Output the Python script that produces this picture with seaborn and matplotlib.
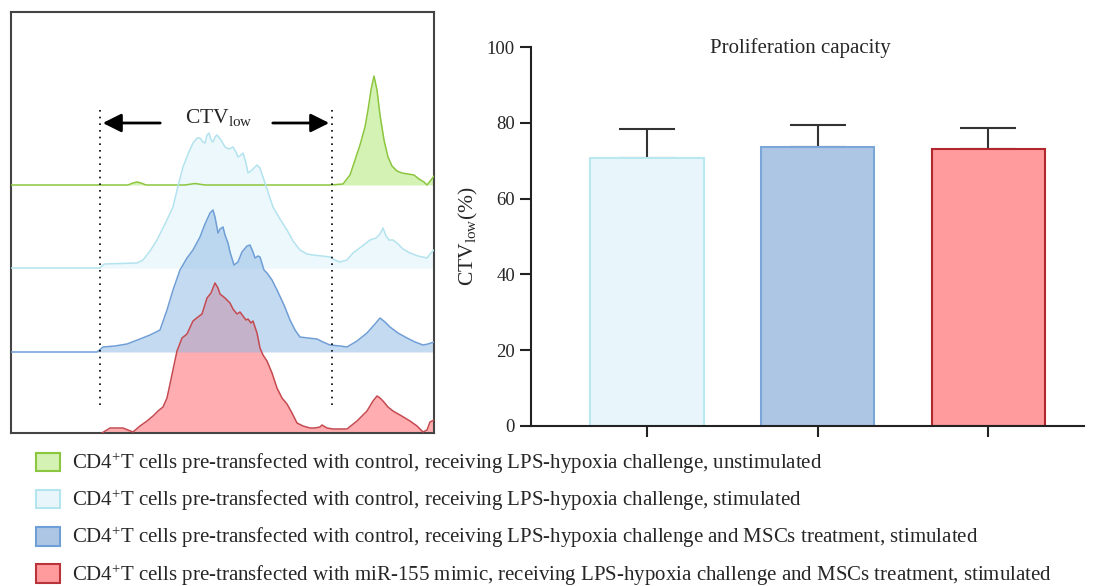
import numpy as np
import pandas as pd
import matplotlib
matplotlib.use("Agg")
import matplotlib.pyplot as plt
import seaborn as sns
from matplotlib.patches import Patch

sns.set_style("white")
plt.rcParams['font.family'] = ['Liberation Serif', 'DejaVu Serif']
plt.rcParams['mathtext.fontset'] = 'custom'
plt.rcParams['mathtext.rm'] = 'Liberation Serif'
plt.rcParams['mathtext.it'] = 'Liberation Serif:italic'

# histogram traces (CTV channel, cell count above each trace's baseline)
green_x = [11, 128, 133, 137, 141, 146, 185, 195, 205, 330, 343, 350, 355, 360, 365, 368, 371, 374, 377, 380,
           384, 388, 392, 397, 402, 408, 414, 419, 424, 427, 431, 434]
green_h = [0, 0, 2, 3, 2, 0, 0, 1.5, 0, 0, 1, 10, 25, 40, 58, 75, 95, 109, 95, 70,
           45, 28, 19, 14, 12, 11, 10, 6, 3, 0, 5, 9]

cyan_x = [11, 100, 104, 137, 143, 150, 157, 165, 173, 178, 183, 188, 193, 197, 200, 203, 205, 207, 209, 211,
          213, 215, 217, 221, 225, 229, 233, 236, 238, 241, 243, 246, 248, 252, 257, 260, 263, 268, 273, 280,
          287, 293, 300, 307, 313, 322, 330, 335, 340, 347, 353, 361, 370, 376, 380, 383, 386, 389, 393, 397,
          403, 410, 418, 427, 430, 434]
cyan_h = [0, 0, 4, 5, 8, 17, 28, 44, 61, 82, 101, 114, 125, 130, 130, 126, 125, 133, 135, 128,
          126, 131, 133, 128, 121, 119, 121, 116, 111, 113, 115, 105, 95, 98, 103, 100, 91, 76, 61, 49,
          38, 27, 18, 14, 13, 12, 11, 8, 6, 8, 15, 21, 28, 30, 34, 40, 32, 28, 28, 25,
          19, 15, 12, 10, 14, 18]

blue_x = [11, 97, 103, 115, 127, 140, 150, 160, 167, 173, 180, 187, 193, 200, 205, 210, 213, 215, 218, 220,
          223, 225, 228, 230, 234, 238, 242, 247, 250, 253, 255, 258, 260, 264, 267, 272, 277, 284, 290, 295,
          300, 308, 317, 323, 330, 340, 347, 357, 367, 375, 380, 385, 390, 398, 407, 415, 423, 428, 434]
blue_h = [0, 0, 5, 6, 8, 13, 17, 22, 42, 62, 82, 94, 102, 115, 128, 139, 142, 135, 119, 123,
          125, 117, 109, 100, 87, 90, 100, 106, 107, 100, 94, 96, 95, 82, 79, 72, 62, 47, 32, 22,
          15, 14, 13, 10, 7, 6, 5, 11, 19, 28, 34, 30, 25, 19, 14, 10, 7, 8, 10]

red_x = [102, 110, 123, 133, 140, 147, 153, 158, 163, 167, 170, 174, 177, 182, 187, 193, 198, 202, 207, 211,
         215, 218, 220, 225, 230, 233, 237, 240, 243, 246, 248, 251, 253, 257, 260, 263, 267, 272, 277, 282,
         287, 292, 297, 303, 310, 315, 320, 322, 327, 333, 340, 347, 357, 367, 373, 377, 380, 383, 388, 393,
         400, 410, 417, 423, 427, 430, 434]
red_h = [0, 5, 5, 1, 7, 12, 17, 22, 26, 35, 49, 68, 82, 95, 99, 112, 116, 119, 135, 140,
         150, 145, 139, 135, 130, 124, 119, 121, 117, 113, 114, 110, 112, 100, 85, 78, 72, 60, 45, 35,
         29, 20, 10, 7, 5, 5, 6, 8, 5, 4, 4, 4, 12, 22, 32, 37, 35, 32, 26, 22,
         18, 12, 7, 1, 3, 11, 13]

offsets = {"green": 248, "cyan": 165, "blue": 81, "red": 0}
gate = [100, 332]

# bar chart
groups = ["stim", "MSCs", "miR-155"]
ctv_mean = [70.7, 73.6, 73.2]
ctv_sd = [7.7, 5.7, 5.4]

legend_labels = [
    "CD4$^{+}$T cells pre-transfected with control, receiving LPS-hypoxia challenge, unstimulated",
    "CD4$^{+}$T cells pre-transfected with control, receiving LPS-hypoxia challenge, stimulated",
    "CD4$^{+}$T cells pre-transfected with control, receiving LPS-hypoxia challenge and MSCs treatment, stimulated",
    "CD4$^{+}$T cells pre-transfected with miR-155 mimic, receiving LPS-hypoxia challenge and MSCs treatment, stimulated",
]

fill = {"green": "#d3f2b3", "cyan": "#e6f6fa", "blue": "#8bb7e5", "red": "#ffadb0"}
edge = {"green": "#8cc63f", "cyan": "#b3e3ee", "blue": "#6f9ed6", "red": "#c44a50"}
alpha = {"green": 1.0, "cyan": 0.75, "blue": 0.5, "red": 1.0}
bar_fill = ["#e8f6fb", "#adc6e4", "#ff9a9d"]
bar_edge = ["#b9e8f0", "#7aa6d8", "#b0282e"]
leg_fill = ["#d3f2b3", "#e8f6fb", "#adc6e4", "#ff9a9d"]
leg_edge = ["#8cc63f", "#b3e5ef", "#6f9fd8", "#b8343a"]

fig = plt.figure(figsize=(10.93, 5.86), dpi=100)

# ---- left: stacked histograms
ax1 = fig.add_axes([11/1093, 1 - 433/586, 423/1093, 421/586])
traces = {"green": (green_x, green_h), "cyan": (cyan_x, cyan_h),
          "red": (red_x, red_h), "blue": (blue_x, blue_h)}
for name, (xs, hs) in traces.items():
    base = offsets[name]
    ys = np.array(hs) + base
    ax1.fill_between(xs, base, ys, color=fill[name], alpha=alpha[name], lw=0, zorder=2)
    ax1.plot(xs, ys, color=edge[name], lw=1.1, zorder=3)
ax1.vlines(gate, 28, 325, colors="black", linestyles=(0, (1, 3)), lw=1.2, zorder=4)
ax1.annotate("", xy=(gate[0], 310), xytext=(163, 310),
             arrowprops=dict(arrowstyle="-|>", color="black", lw=2, mutation_scale=28))
ax1.annotate("", xy=(gate[1], 310), xytext=(270, 310),
             arrowprops=dict(arrowstyle="-|>", color="black", lw=2, mutation_scale=28))
ax1.text(219, 315, r"CTV$_{\mathrm{low}}$", ha="center", va="center", fontsize=15.5)
ax1.set_xlim(11, 434)
ax1.set_ylim(0, 421)
ax1.set_xticks([])
ax1.set_yticks([])
for s in ax1.spines.values():
    s.set_color("#444444")
    s.set_linewidth(1.5)

# ---- right: bar chart
ax2 = fig.add_axes([531/1093, 1 - 426/586, 553/1093, 379/586])
df = pd.DataFrame({"group": groups, "ctv": ctv_mean})
sns.barplot(data=df, x="group", y="ctv", hue="group", palette=bar_fill, order=groups,
            width=0.665, saturation=1, legend=False, ax=ax2, zorder=2)
for patch, ec in zip(ax2.patches, bar_edge):
    patch.set_edgecolor(ec)
    patch.set_linewidth(1.5)
ax2.errorbar(range(len(groups)), ctv_mean, yerr=[np.zeros(len(groups)), ctv_sd],
             fmt="none", ecolor="#333333", elinewidth=1.5, capsize=20, capthick=1.5, zorder=1)
ax2.set_xlim(-0.68, 2.56)
ax2.set_ylim(0, 100)
ax2.set_yticks([0, 20, 40, 60, 80, 100])
ax2.set_xticklabels([])
ax2.set_xlabel("")
ax2.set_ylabel(r"CTV$_{\mathrm{low}}$(%)", fontsize=15.5, labelpad=5)
ax2.tick_params(axis="both", direction="out", length=8, width=1.5, color="#222222",
                labelsize=13.5, left=True, bottom=True)
sns.despine(ax=ax2)
for s in ["left", "bottom"]:
    ax2.spines[s].set_linewidth(1.5)
    ax2.spines[s].set_color("#222222")
ax2.text(0.488, 0.997, "Proliferation capacity", transform=ax2.transAxes,
         ha="center", va="center", fontsize=15)

# ---- legend
handles = [Patch(facecolor=f, edgecolor=e, lw=1.5) for f, e in zip(leg_fill, leg_edge)]
fig.legend(handles=handles, labels=legend_labels, loc="upper left",
           bbox_to_anchor=(36/1093, 1 - 451/586), frameon=False, fontsize=15,
           handlelength=1.15, handleheight=1.0, handletextpad=0.6,
           labelspacing=0.58, borderpad=0, borderaxespad=0)

fig.savefig("out.png", dpi=100)
